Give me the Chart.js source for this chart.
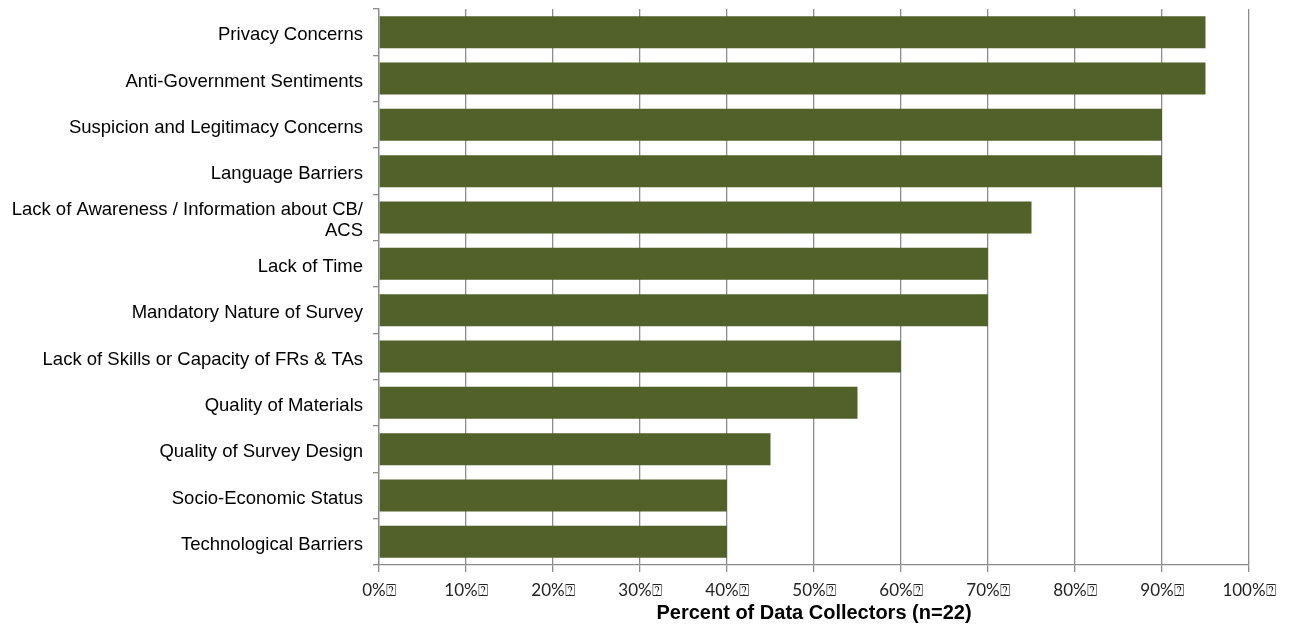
<!DOCTYPE html>
<html>
<head>
<meta charset="utf-8">
<script src="https://cdn.jsdelivr.net/npm/chart.js"></script>
<style>
    html, body { margin: 0; padding: 0; background: #ffffff; }
    #chartBox { width: 1293px; height: 626px; }
</style>
</head>
<body>
<div id="chartBox"><canvas id="diagramCanvas" width="1293" height="626"></canvas></div>
<script>
//Setting all content data
const barrierNames =
[
    'Privacy Concerns',
    'Anti-Government Sentiments',
    'Suspicion and Legitimacy Concerns',
    'Language Barriers',
    ['Lack of Awareness / Information about CB/', 'ACS'],
    'Lack of Time',
    'Mandatory Nature of Survey',
    'Lack of Skills or Capacity of FRs & TAs',
    'Quality of Materials',
    'Quality of Survey Design',
    'Socio-Economic Status',
    'Technological Barriers'
]

const collectorPercents = [95, 95, 90, 90, 75, 70, 70, 60, 55, 45, 40, 40]

const percentTicks = [0, 10, 20, 30, 40, 50, 60, 70, 80, 90, 100]

const axisTitle = 'Percent of Data Collectors (n=22)'

const barColor = '#526129'
const gridColor = '#8c8c8c'



//Create the chart
const diagramCanvas = document.getElementById('diagramCanvas');
const diagramChart = new Chart(
    diagramCanvas,
    {
        type: 'bar',
        data:
        {
            labels: barrierNames,
            datasets:
                [{
                    backgroundColor: barColor,
                    borderWidth: 0,
                    data: collectorPercents,
                    barPercentage: 0.69,
                    categoryPercentage: 1
                }]
        },
        options:
        {
            indexAxis: 'y',
            responsive: false,
            maintainAspectRatio: false,
            devicePixelRatio: 1,
            animation: false,
            layout:
            {
                padding: { top: 9, right: 44, left: 0, bottom: 0 }
            },
            scales:
            {
                x:
                {
                    min: 0,
                    max: 100,
                    afterBuildTicks: scale => { scale.ticks = percentTicks.map(v => ({ value: v })) },
                    afterFit: scale => { scale.height = 61 },
                    grid:
                    {
                        color: gridColor,
                        lineWidth: 1.3,
                        drawTicks: true,
                        tickLength: 7,
                        tickColor: gridColor
                    },
                    border: { color: gridColor, width: 1.3 },
                    ticks:
                    {
                        padding: 8,
                        color: '#222222',
                        font: { family: 'Lato', size: 17 },
                        callback: value => value + '%\u2370'
                    },
                    title:
                    {
                        display: true,
                        text: axisTitle,
                        color: '#000000',
                        font: { family: 'Liberation Sans', size: 20, weight: 'bold' },
                        padding: { top: 0, bottom: 1 }
                    }
                },
                y:
                {
                    //fixed width, and no extra room for half labels at the ends
                    afterFit: scale =>
                    {
                        scale.width = 379;
                        scale.paddingTop = 0;
                        scale.paddingBottom = 0;
                    },
                    grid:
                    {
                        offset: true,
                        drawOnChartArea: false,
                        drawTicks: true,
                        tickLength: 6,
                        color: gridColor,
                        lineWidth: 1.3
                    },
                    border: { color: gridColor, width: 1.3 },
                    ticks:
                    {
                        autoSkip: false,
                        padding: 10,
                        labelOffset: 3,
                        color: '#000000',
                        font: { family: 'Liberation Sans', size: 18.5, lineHeight: 1.17 }
                    }
                }
            },
            plugins:
            {
                legend: { display: false },
                tooltip: { enabled: false }
            }
        }
    }
);
</script>
</body>
</html>
